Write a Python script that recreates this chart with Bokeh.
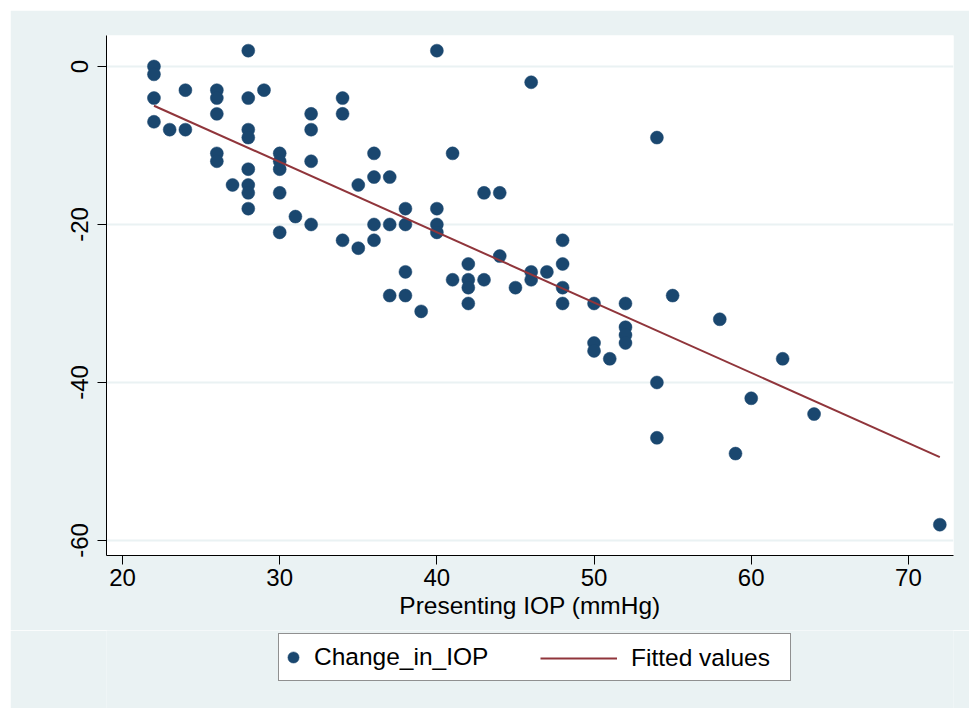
from bokeh.plotting import figure
from bokeh.layouts import column
from bokeh.models import Range1d, FixedTicker, Legend, LegendItem
from bokeh.embed import file_html
from bokeh.resources import INLINE

# ---- data ----
presenting_iop = [22, 22, 22, 22, 23, 24, 24, 26, 26, 26, 26, 26, 27,
                  28, 28, 28, 28, 28, 28, 28, 28, 29, 30, 30, 30, 30, 30,
                  31, 32, 32, 32, 32, 34, 34, 34, 35, 35, 36, 36, 36, 36,
                  37, 37, 37, 38, 38, 38, 38, 39, 40, 40, 40, 40, 41, 41,
                  42, 42, 42, 42, 43, 43, 44, 44, 45, 46, 46, 46, 47,
                  48, 48, 48, 48, 50, 50, 50, 51, 52, 52, 52, 52,
                  54, 54, 54, 55, 58, 59, 60, 62, 64, 72]
change_in_iop = [0, -1, -4, -7, -8, -3, -8, -3, -4, -6, -11, -12, -15,
                 2, -4, -8, -9, -13, -15, -16, -18, -3, -11, -12, -13, -16, -21,
                 -19, -6, -8, -12, -20, -4, -6, -22, -15, -23, -11, -14, -20, -22,
                 -14, -20, -29, -18, -20, -26, -29, -31, 2, -18, -20, -21, -11, -27,
                 -25, -27, -28, -30, -16, -27, -16, -24, -28, -2, -26, -27, -26,
                 -22, -25, -28, -30, -30, -35, -36, -37, -30, -33, -34, -35,
                 -9, -40, -47, -29, -32, -49, -42, -37, -44, -58]
fit_x = [22, 72]
fit_y = [-4.97, -49.45]
x_ticks = [20, 30, 40, 50, 60, 70]
y_ticks = [0, -20, -40, -60]
y_tick_labels = ["0", "-20", "-40", "-60"]
series_names = ["Change_in_IOP", "Fitted values"]
x_title = "Presenting IOP (mmHg)"

NAVY = "#1A476F"
MAROON = "#90353B"
BG = "#EAF2F3"
FONT = "Liberation Sans"

# ---- main plot ----
p = figure(width=959, height=620, output_backend="svg", toolbar_location=None,
           x_range=Range1d(18.98, 72.87), y_range=Range1d(-61.9, 3.92),
           min_border_left=96, min_border_right=16, min_border_top=25,
           min_border_bottom=75)
p.border_fill_color = BG
p.background_fill_color = "white"
p.outline_line_color = None

p.xgrid.visible = False
p.ygrid.grid_line_color = BG
p.ygrid.grid_line_width = 2
p.ygrid.ticker = FixedTicker(ticks=y_ticks)

p.xaxis.ticker = FixedTicker(ticks=x_ticks)
p.yaxis.ticker = FixedTicker(ticks=y_ticks)
p.yaxis.major_label_overrides = dict(zip(y_ticks, y_tick_labels))
for ax in (p.xaxis[0], p.yaxis[0]):
    ax.major_tick_out = 9
    ax.major_tick_in = 0
    ax.minor_tick_out = 0
    ax.minor_tick_in = 0
    ax.axis_line_color = "black"
    ax.major_tick_line_color = "black"
    ax.major_label_text_font = FONT
    ax.major_label_text_font_size = "24px"
    ax.major_label_text_color = "black"
p.xaxis.major_label_standoff = 4
p.yaxis.major_label_standoff = 9
p.yaxis.major_label_orientation = "vertical"
p.xaxis.axis_label = x_title
p.xaxis.axis_label_text_font = FONT
p.xaxis.axis_label_text_font_size = "24.5px"
p.xaxis.axis_label_text_font_style = "normal"
p.xaxis.axis_label_text_color = "black"
p.xaxis.axis_label_standoff = 3

p.scatter(presenting_iop, change_in_iop, size=13, fill_color=NAVY,
          line_color=NAVY, line_width=0.5)
p.line(fit_x, fit_y, line_color=MAROON, line_width=2)

# ---- legend strip below the plot (its frame lines up with the plot's) ----
# The strip shows the same series, but its ranges lie outside the data, so only
# the legend entries are visible there.
pl = figure(width=959, height=78, output_backend="svg", toolbar_location=None,
            x_range=Range1d(-2, -1), y_range=Range1d(100, 101),
            x_axis_type=None, y_axis_type=None,
            min_border_left=96, min_border_right=16, min_border_top=0,
            min_border_bottom=0)
pl.border_fill_color = BG
pl.background_fill_color = BG
pl.outline_line_color = None
pl.grid.visible = False
r_pts = pl.scatter(presenting_iop, change_in_iop, size=13, fill_color=NAVY,
                   line_color=NAVY, line_width=0.5)
r_fit = pl.line(fit_x, fit_y, line_color=MAROON, line_width=2)

common = dict(orientation="horizontal", padding=0, spacing=0, margin=0,
              glyph_height=46, label_height=46,
              label_text_font=FONT, label_text_font_size="24.5px",
              label_text_color="black")
leg1 = Legend(items=[LegendItem(label=series_names[0], renderers=[r_pts])],
              location=(172, 27), glyph_width=28, label_standoff=7,
              label_width=476, border_line_color="#222222", border_line_width=1,
              background_fill_color="white", background_fill_alpha=1.0, **common)
leg2 = Legend(items=[LegendItem(label=series_names[1], renderers=[r_fit])],
              location=(434, 27), glyph_width=77, label_standoff=14,
              border_line_color=None, background_fill_alpha=0.0, **common)
pl.add_layout(leg1, "center")
pl.add_layout(leg2, "center")

layout = column(p, pl, spacing=0, margin=(10, 0, 0, 10))
open("out.html", "w").write(file_html(layout, INLINE))
